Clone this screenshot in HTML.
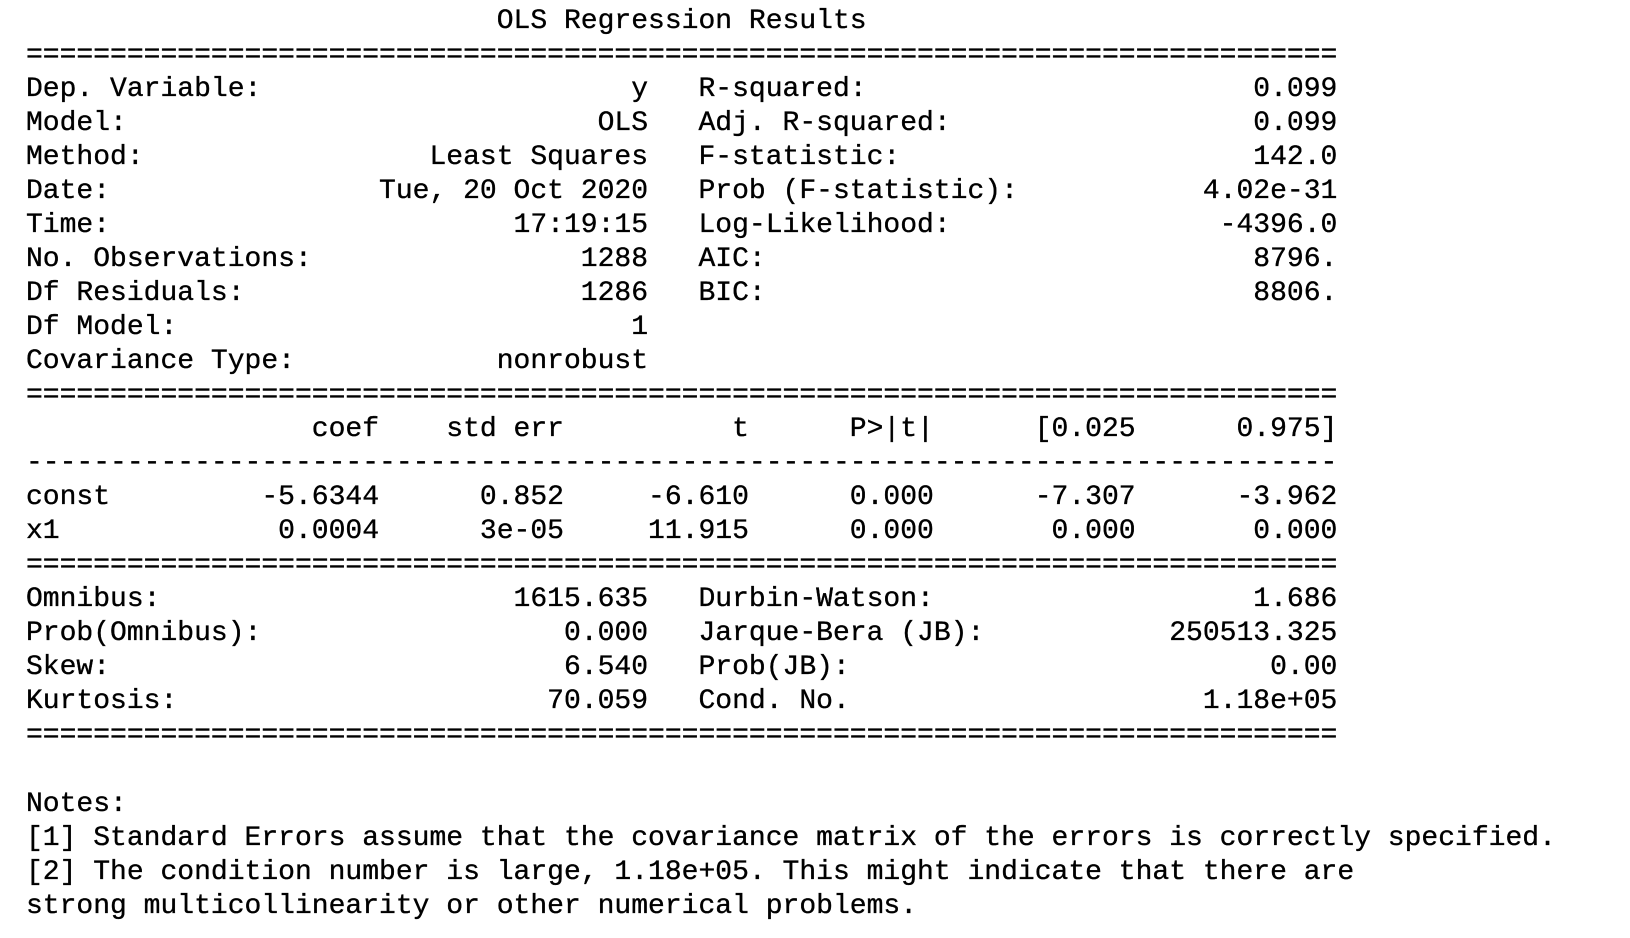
<!DOCTYPE html>
<html><head><meta charset="utf-8">
<style>
html,body{margin:0;padding:0;background:#fff;width:1630px;height:938px;overflow:hidden;}
#out{position:absolute;left:26px;top:4.5px;margin:0;font-family:"Liberation Mono",monospace;font-size:28.03px;line-height:34.05px;color:#000;white-space:pre;-webkit-text-stroke:0.35px #000;}
.ln{display:block;height:34.05px;}
</style></head>
<body>
<pre id="out"></pre>
<script>
const title = "OLS Regression Results";
const topLeft = [["Dep. Variable:","y"],["Model:","OLS"],["Method:","Least Squares"],["Date:","Tue, 20 Oct 2020"],["Time:","17:19:15"],["No. Observations:","1288"],["Df Residuals:","1286"],["Df Model:","1"],["Covariance Type:","nonrobust"]];
const topRight = [["R-squared:","0.099"],["Adj. R-squared:","0.099"],["F-statistic:","142.0"],["Prob (F-statistic):","4.02e-31"],["Log-Likelihood:","-4396.0"],["AIC:","8796."],["BIC:","8806."],null,null];
const coefHeader = ["","coef","std err","t","P>|t|","[0.025","0.975]"];
const coefRows = [["const","-5.6344","0.852","-6.610","0.000","-7.307","-3.962"],["x1","0.0004","3e-05","11.915","0.000","0.000","0.000"]];
const botLeft = [["Omnibus:","1615.635"],["Prob(Omnibus):","0.000"],["Skew:","6.540"],["Kurtosis:","70.059"]];
const botRight = [["Durbin-Watson:","1.686"],["Jarque-Bera (JB):","250513.325"],["Prob(JB):","0.00"],["Cond. No.","1.18e+05"]];
const notes = ["Notes:","[1] Standard Errors assume that the covariance matrix of the errors is correctly specified.","[2] The condition number is large, 1.18e+05. This might indicate that there are","strong multicollinearity or other numerical problems."];

function pair(p,w){ if(!p) return " ".repeat(w); return p[0] + " ".repeat(Math.max(1,w-p[0].length-p[1].length)) + p[1]; }
function coefLine(r){ return r[0].padEnd(5) + r[1].padStart(16) + r[2].padStart(11) + r[3].padStart(11) + r[4].padStart(11) + r[5].padStart(12) + r[6].padStart(12); }

const lines = [];
lines.push([" ".repeat(28)+title,"title"]);
lines.push(["=".repeat(78),"rule-double"]);
topLeft.forEach((l,i)=>lines.push([(pair(l,37)+"   "+pair(topRight[i],38)).replace(/\s+$/,""),"model-info-row"]));
lines.push(["=".repeat(78),"rule-double"]);
lines.push([coefLine(coefHeader),"coef-header"]);
lines.push(["-".repeat(78),"rule-single"]);
coefRows.forEach(r=>lines.push([coefLine(r),"coef-row-"+r[0]]));
lines.push(["=".repeat(78),"rule-double"]);
botLeft.forEach((l,i)=>lines.push([pair(l,37)+"   "+pair(botRight[i],38),"diagnostic-row"]));
lines.push(["=".repeat(78),"rule-double"]);
lines.push(["","blank-line"]);
notes.forEach((n,i)=>lines.push([n,"note-line"]));

const out = document.getElementById("out");
lines.forEach(l=>{
  const s = document.createElement("span");
  s.className = "ln";
  
  
  s.textContent = l[0];
  out.appendChild(s);
});
</script>
</body></html>
